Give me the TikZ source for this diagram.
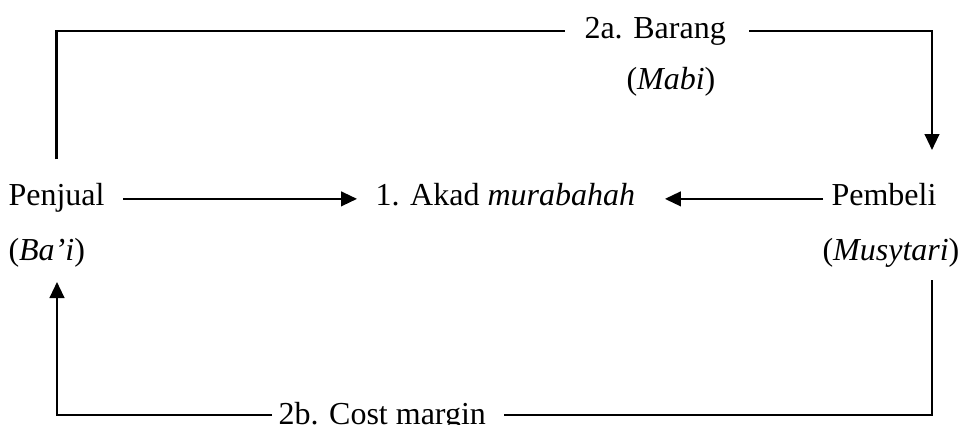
\documentclass[tikz,border=0pt]{standalone}
\usepackage{fontspec}
\setmainfont{Liberation Serif}
\usetikzlibrary{arrows.meta, positioning}
\tikzstyle{arrow} = [line width=0.8pt, -{Triangle[length=6pt,width=5.5pt]}]
\tikzstyle{plain} = [line width=0.8pt]
\tikzstyle{txt} = [inner sep=0pt, anchor=base west, font=\fontsize{12}{14}\selectfont]

\begin{document}
\begin{tikzpicture}[x=0.375pt, y=-0.375pt]
\useasboundingbox (0,0) rectangle (966,425);

\node (penjual) [txt] at (8,205) {Penjual};
\node (bai) [txt] at (8,260) {(\textit{Ba’i})};
\node (akad) [txt] at (375,205) {1. Akad \textit{murabahah}};
\node (pembeli) [txt] at (831,205) {Pembeli};
\node (musytari) [txt] at (822,260) {(\textit{Musytari})};
\node (barang) [txt] at (584,38) {2a. Barang};
\node (mabi) [txt] at (626,90) {(\textit{Mabi})};
\node (cost) [txt] at (278,424) {2b. Cost margin};

\coordinate (masuk) at (932,150);
\coordinate (keluar) at (932,280);
\coordinate (sudutka) at (932,415);
\coordinate (sudutki) at (57,415);
\coordinate (masukbai) at (57,282);

\draw [arrow, shorten <=6.75pt, shorten >=6.75pt] (penjual.mid east) -- (akad.mid west);
\draw [arrow, shorten <=3pt, shorten >=11pt] (pembeli.mid west) -- (akad.mid east);

\draw [plain, shorten <=8.6pt, shorten >=7pt] (penjual.north) |- (barang.west);
\draw [arrow, shorten <=8.6pt] (barang.east) -| (masuk);

\draw [plain, shorten >=6.4pt] (keluar) -- (sudutka) -- (sudutka -| cost.east);
\draw [arrow, shorten <=2.25pt] (sudutki -| cost.west) -- (sudutki) -- (masukbai);

\end{tikzpicture}
\end{document}
